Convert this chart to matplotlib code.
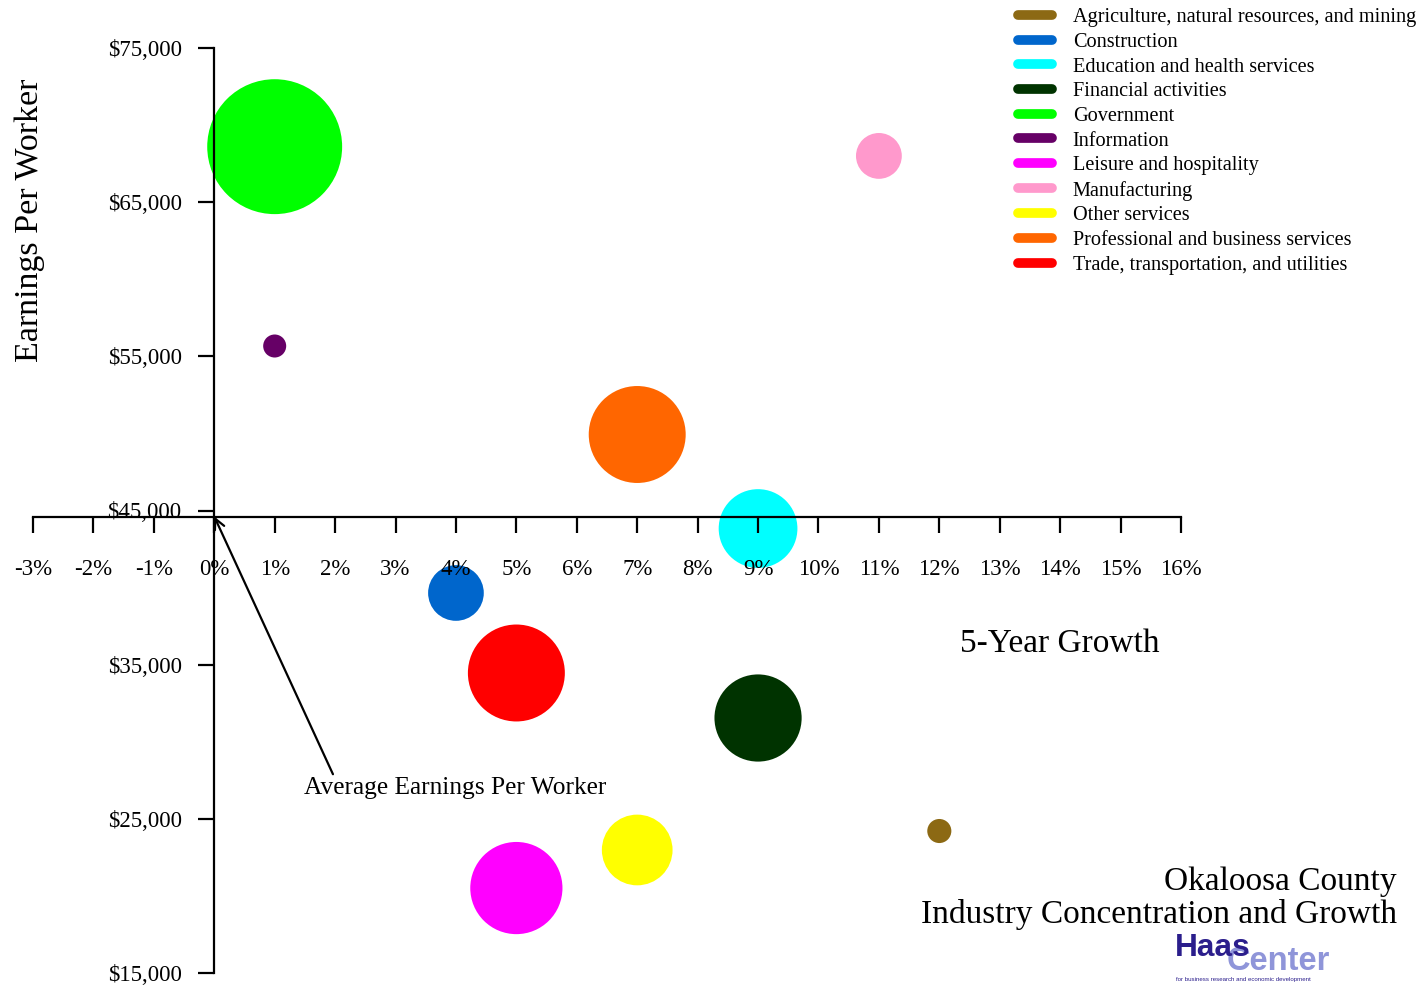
import matplotlib
matplotlib.use("Agg")
import matplotlib.pyplot as plt
from matplotlib.lines import Line2D
from matplotlib.ticker import FuncFormatter

# ---------------- data ----------------
industries = [
    "Agriculture, natural resources, and mining",
    "Construction",
    "Education and health services",
    "Financial activities",
    "Government",
    "Information",
    "Leisure and hospitality",
    "Manufacturing",
    "Other services",
    "Professional and business services",
    "Trade, transportation, and utilities",
]
growth_pct = [12, 4, 9, 9, 1, 1, 5, 11, 7, 7, 5]
earnings = [24210, 39650, 43830, 31540, 68600, 55670, 20510, 68000, 22980, 49930, 34460]
employment = [580, 3100, 6200, 7600, 18200, 530, 8500, 2100, 5000, 9400, 9400]
colors = ["#8C6914", "#0066CC", "#00FFFF", "#003300", "#00FF00", "#660066",
          "#FF00FF", "#FF99CC", "#FFFF00", "#FF6600", "#FF0000"]
avg_earnings = 44610
x_ticks = list(range(-3, 17))
y_ticks = [15000, 25000, 35000, 45000, 55000, 65000, 75000]

# ---------------- figure ----------------
W, H = 1428, 989
fig = plt.figure(figsize=(W / 100, H / 100), dpi=100)
serif = "Liberation Serif"
plt.rcParams["font.family"] = serif

x0, x1 = 33, 1181
y_top, y_bot = 48, 973
ax = fig.add_axes([x0 / W, 1 - y_bot / H, (x1 - x0) / W, (y_bot - y_top) / H])
ax.set_xlim(-3, 16)
ax.set_ylim(15000, 75000)
ax.patch.set_alpha(0)

size_scale = 0.5184
ax.scatter(growth_pct, earnings, s=[e * size_scale for e in employment],
           c=colors, linewidths=0, clip_on=False, zorder=1)

for sp in ["top", "right"]:
    ax.spines[sp].set_visible(False)
ax.spines["left"].set_position(("data", 0))
ax.spines["bottom"].set_position(("data", avg_earnings))
for sp in ["left", "bottom"]:
    ax.spines[sp].set_linewidth(1.6)
    ax.spines[sp].set_zorder(3)
ax.set_axisbelow(False)

ax.set_xticks(x_ticks)
ax.set_yticks(y_ticks)
ax.xaxis.set_major_formatter(FuncFormatter(lambda v, p: f"{int(v)}%"))
ax.yaxis.set_major_formatter(FuncFormatter(lambda v, p: f"${int(v):,}"))
ax.tick_params(axis="x", direction="out", length=11.5, width=1.6, pad=19,
               labelsize=16.5)
ax.tick_params(axis="y", direction="out", length=11.5, width=1.6, pad=12,
               labelsize=16.5)
for lab in ax.get_xticklabels() + ax.get_yticklabels():
    lab.set_fontfamily(serif)

# axis titles
fig.text(30 / W, 1 - 220 / H, "Earnings Per Worker", rotation=90,
         ha="center", va="center", fontsize=24.5, family=serif)
fig.text(1060 / W, 1 - 644 / H, "5-Year Growth", ha="center", va="center",
         fontsize=24, family=serif)

# annotation
ax.annotate("Average Earnings Per Worker", xy=(0, avg_earnings),
            xytext=(304 / W, 1 - 788 / H), textcoords="figure fraction",
            ha="left", va="center", fontsize=18.3, family=serif,
            arrowprops=dict(arrowstyle="->", lw=1.6, color="black",
                            shrinkA=0, shrinkB=0,
                            relpos=(0.1, 1.0)))

# legend
handles = [Line2D([0], [0], color=c, lw=7, solid_capstyle="round")
           for c in colors]
fig.legend(handles, industries, loc="upper left",
           bbox_to_anchor=(1018 / W, 1 - 8 / H), bbox_transform=fig.transFigure,
           frameon=False, handlelength=1.7, handletextpad=1.0,
           labelspacing=0.27, borderpad=0, borderaxespad=0,
           prop={"family": serif, "size": 14.6})

# titles
fig.text(1397 / W, 1 - 882 / H, "Okaloosa County", ha="right", va="center",
         fontsize=24, family=serif)
fig.text(1397 / W, 1 - 914 / H, "Industry Concentration and Growth",
         ha="right", va="center", fontsize=24, family=serif)

# logo
fig.text(1227 / W, 1 - 962 / H, "Center", ha="left", va="center",
         fontsize=23.5, fontweight="bold", color="#8F95D9",
         family="Liberation Sans")
fig.text(1175 / W, 1 - 948 / H, "Haas", ha="left", va="center",
         fontsize=22.8, fontweight="bold", color="#2B1E8C",
         family="Liberation Sans")
fig.text(1176 / W, 1 - 980 / H,
         "for business research and economic development",
         ha="left", va="center", fontsize=4.4, color="#2B1E8C",
         family="Liberation Sans")

fig.savefig("out.png", dpi=100)
